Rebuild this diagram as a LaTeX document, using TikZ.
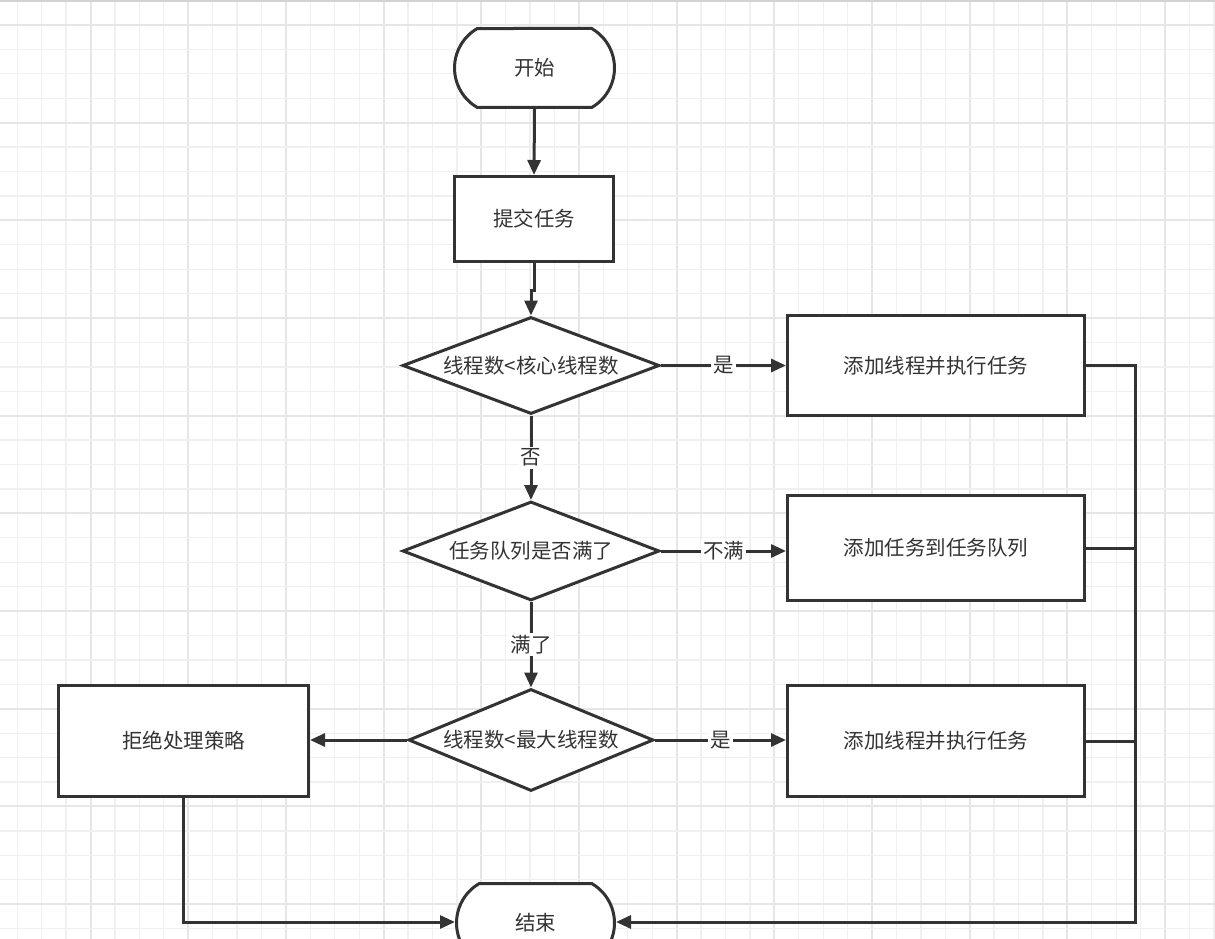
\documentclass[tikz,border=0pt]{standalone}
\usepackage{fontspec}
\setmainfont{Noto Sans CJK SC}
\usetikzlibrary{shapes.geometric,shapes.misc,arrows.meta}
\definecolor{ln}{HTML}{333333}
\definecolor{gridminor}{HTML}{F0F0F0}
\definecolor{gridmajor}{HTML}{E6E6E6}
\begin{document}
\begin{tikzpicture}[x=1pt,y=-1pt,
  font=\fontsize{20.5}{24}\selectfont,
  every node/.style={text=ln},
  shp/.style={draw=ln, line width=3pt, fill=white, inner sep=0pt},
  boxn/.style={shp, rectangle},
  dia/.style={shp, diamond, aspect=2.6},
  term/.style={shp, rounded rectangle, rounded rectangle arc length=120},
  conn/.style={draw=ln, line width=3pt},
  arr/.style={conn, -{Triangle[length=15pt,width=13pt]}},
  lbl/.style={fill=white, inner sep=2pt, midway}
]
\clip (0,0) rectangle (1215,939);
\fill[white] (0,0) rectangle (1215,939);
% grid
\foreach \i in {0,...,49}{
  \pgfmathsetmacro\gx{17.3+24.42*\i}
  \pgfmathtruncatemacro\m{mod(\i,4)}
  \ifnum\m=3
    \draw[gridmajor, line width=2pt] (\gx,0) -- (\gx,939);
  \else
    \draw[gridminor, line width=1.3pt] (\gx,0) -- (\gx,939);
  \fi
}
\foreach \j in {-1,...,38}{
  \pgfmathsetmacro\gy{25+24.42*\j}
  \pgfmathtruncatemacro\m{mod(\j+4,4)}
  \ifnum\m=0
    \draw[gridmajor, line width=2pt] (0,\gy) -- (1215,\gy);
  \else
    \draw[gridminor, line width=1.3pt] (0,\gy) -- (1215,\gy);
  \fi
}
\draw[gridmajor!80!gray, line width=2pt] (0,0.8) -- (1215,0.8);

% nodes
\node[term, minimum width=160pt, minimum height=79pt] (start) at (534.5,68) {开始};
\node[boxn, minimum width=159pt, minimum height=85pt] (submit) at (534,219) {提交任务};
\node[dia, minimum width=257pt, minimum height=97pt] (d1) at (531,365.5) {线程数<核心线程数};
\node[dia, minimum width=257pt, minimum height=99pt] (d2) at (531,551) {任务队列是否满了};
\node[dia, minimum width=245pt, minimum height=102pt] (d3) at (531,740) {线程数<最大线程数};
\node[boxn, minimum width=297pt, minimum height=100pt] (b1) at (936,365.5) {添加线程并执行任务};
\node[boxn, minimum width=297pt, minimum height=105pt] (b2) at (936,548) {添加任务到任务队列};
\node[boxn, minimum width=297pt, minimum height=111pt] (b3) at (936,741) {添加线程并执行任务};
\node[boxn, minimum width=250pt, minimum height=111pt] (rej) at (183.5,741) {拒绝处理策略};
\node[term, minimum width=158pt, minimum height=79pt] (endn) at (535.5,923) {结束};

\coordinate (busTop) at (1135,365.5);
\coordinate (busBot) at (1135,922);

% connectors
\draw[arr] (start.south) -- (submit.north);
\draw[arr] (submit.south) -- ++(0,27) -| (d1.north);
\draw[arr] (d1.south) -- node[lbl] {否} (d2.north);
\draw[arr] (d2.south) -- node[lbl] {满了} (d3.north);
\draw[arr] (d1.east) -- node[lbl] {是} (d1.east -| b1.west);
\draw[arr] (d2.east) -- node[lbl] {不满} (d2.east -| b2.west);
\draw[arr] (d3.east) -- node[lbl] {是} (d3.east -| b3.west);
\draw[arr] (d3.west) -- (d3.west -| rej.east);
\draw[conn] (b2.east) -- (b2.east -| busTop);
\draw[conn] (b3.east) -- (b3.east -| busTop);
\draw[arr, line join=miter] (b1.east) -- (busTop) -- (busBot) -- (busBot -| endn.east);
\draw[arr, line join=miter] (rej.south) |- (busBot -| endn.west);
\end{tikzpicture}
\end{document}
